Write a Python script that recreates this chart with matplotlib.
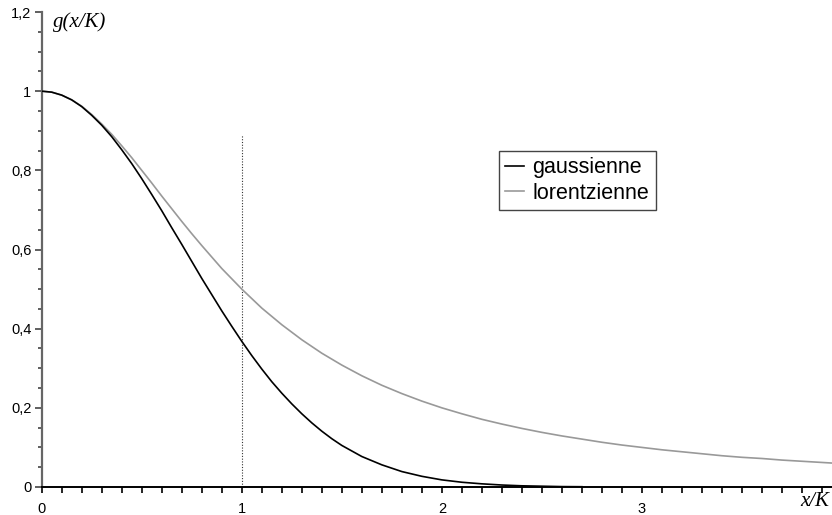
import matplotlib
matplotlib.use('Agg')
import matplotlib.pyplot as plt
from matplotlib.ticker import MultipleLocator

# values (denser sampling where the curves bend most)
x_gauss = [0.0, 0.05, 0.1, 0.15, 0.2, 0.25, 0.3, 0.35, 0.4, 0.45, 0.5, 0.55, 0.6,
           0.65, 0.7, 0.75, 0.8, 0.85, 0.9, 0.95, 1.0, 1.05, 1.1, 1.15, 1.2, 1.25,
           1.3, 1.35, 1.4, 1.45, 1.5, 1.6, 1.7, 1.8, 1.9, 2.0, 2.1, 2.2, 2.3, 2.4,
           2.5, 2.6, 2.7]
gaussienne = [1.0, 0.9975, 0.990, 0.978, 0.961, 0.939, 0.914, 0.885, 0.852, 0.817,
              0.779, 0.739, 0.698, 0.655, 0.613, 0.570, 0.527, 0.486, 0.445, 0.406,
              0.368, 0.332, 0.298, 0.266, 0.237, 0.210, 0.185, 0.162, 0.141, 0.122,
              0.105, 0.077, 0.056, 0.039, 0.027, 0.018, 0.012, 0.008, 0.005, 0.003,
              0.002, 0.001, 0.0007]

x_lor = [0.0, 0.05, 0.1, 0.15, 0.2, 0.25, 0.3, 0.35, 0.4, 0.45, 0.5, 0.55, 0.6, 0.65,
         0.7, 0.75, 0.8, 0.85, 0.9, 0.95, 1.0, 1.1, 1.2, 1.3, 1.4, 1.5, 1.6, 1.7, 1.8,
         1.9, 2.0, 2.1, 2.2, 2.3, 2.4, 2.5, 2.6, 2.7, 2.8, 2.9, 3.0, 3.1, 3.2, 3.3,
         3.4, 3.5, 3.6, 3.7, 3.8, 3.9, 4.0]
lorentzienne = [1.0, 0.9975, 0.990, 0.978, 0.962, 0.941, 0.917, 0.891, 0.862, 0.832,
                0.800, 0.768, 0.735, 0.703, 0.671, 0.640, 0.610, 0.581, 0.552, 0.526,
                0.500, 0.452, 0.410, 0.372, 0.338, 0.308, 0.281, 0.257, 0.236, 0.217,
                0.200, 0.185, 0.171, 0.159, 0.148, 0.138, 0.129, 0.121, 0.113, 0.106,
                0.100, 0.094, 0.089, 0.084, 0.079, 0.075, 0.072, 0.068, 0.065, 0.062,
                0.059]

x_ticks = [0, 1, 2, 3]
x_tick_labels = ['0', '1', '2', '3']
y_ticks = [0, 0.2, 0.4, 0.6, 0.8, 1.0, 1.2]
y_tick_labels = ['0', '0,2', '0,4', '0,6', '0,8', '1', '1,2']
marker_x = 1.0
marker_top = 0.89

fig = plt.figure(figsize=(8.32, 5.15), dpi=100)
ax = fig.add_axes([41.7 / 832, 28 / 515, (832 - 41.7) / 832, (487 - 12) / 515])

ax.plot(x_lor, lorentzienne, color='#999999', lw=1.2, label='lorentzienne', zorder=3)
ax.plot(x_gauss, gaussienne, color='black', lw=1.2, label='gaussienne', zorder=4)
ax.plot([marker_x, marker_x], [0, marker_top], color='#333333', lw=0.8, ls=(0, (1, 1.5)))

ax.set_xlim(0, 3.95)
ax.set_ylim(0, 1.2)
ax.spines['top'].set_visible(False)
ax.spines['right'].set_visible(False)
ax.spines['left'].set_color('#666666')
ax.spines['left'].set_linewidth(1.6)
ax.spines['bottom'].set_color('black')
ax.spines['bottom'].set_linewidth(1.4)

ax.set_xticks(x_ticks)
ax.set_xticklabels(x_tick_labels)
ax.set_yticks(y_ticks)
ax.set_yticklabels(y_tick_labels)
ax.xaxis.set_minor_locator(MultipleLocator(0.1))
ax.yaxis.set_minor_locator(MultipleLocator(0.05))
ax.tick_params(axis='x', which='both', direction='out', length=4, width=1.2, color='black',
               pad=6.5, labelsize=10.5)
ax.tick_params(axis='y', which='major', direction='out', length=5, width=1.2, color='#444444',
               pad=2.5, labelsize=10.5)
ax.tick_params(axis='y', which='minor', direction='out', length=3, width=1.2, color='#444444')
for lab in ax.get_xticklabels() + ax.get_yticklabels():
    lab.set_family('Liberation Sans')

fig.text(53 / 832, 1 - 22 / 515, 'g(x/K)', family='Liberation Serif', style='italic',
         fontsize=15, va='center', ha='left')
fig.text(829 / 832, 1 - 501 / 515, 'x/K', family='Liberation Serif', style='italic',
         fontsize=15, va='center', ha='right')

handles, labels = ax.get_legend_handles_labels()
leg = ax.legend(handles[::-1], labels[::-1], loc='upper left',
                bbox_to_anchor=(499 / 832, 1 - 151 / 515), bbox_transform=fig.transFigure,
                borderaxespad=0, fancybox=False, framealpha=1, edgecolor='#444444',
                prop={'family': 'Liberation Sans', 'size': 15.5}, handlelength=0.85,
                handletextpad=0.4, borderpad=0.3, labelspacing=0.2)
leg.get_frame().set_linewidth(1.0)

fig.savefig('out.png', dpi=100)
